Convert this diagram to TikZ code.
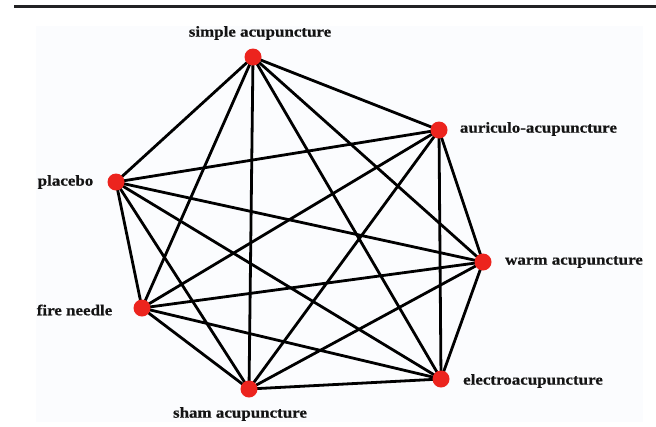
\documentclass[tikz,border=0pt]{standalone}
\usepackage{fontspec}
\newfontfamily\lblfont[FakeStretch=1.12,FakeBold=0.6]{Liberation Serif}
\definecolor{dotred}{RGB}{236,36,30}
\definecolor{panel}{RGB}{251,252,254}
\definecolor{rule}{RGB}{34,34,36}
\begin{document}
\begin{tikzpicture}[x=1bp,y=-1bp,
  dot/.style={circle,fill=dotred,inner sep=0pt,minimum size=17bp},
  lbl/.style={inner sep=0pt,font=\lblfont\bfseries\fontsize{15.2}{17}\selectfont,text=black!92},
  edge/.style={line width=2.8bp,black}]
\useasboundingbox (0,0) rectangle (656,426);
\fill[panel] (36,26) rectangle (643,422);
\draw[rule,line width=2.2bp] (14,6.5) -- (656,6.5);
\coordinate (S) at (253,57);
\coordinate (A) at (439,130);
\coordinate (P) at (116,182);
\coordinate (W) at (483,262);
\coordinate (F) at (142,308);
\coordinate (H) at (249,389);
\coordinate (E) at (441,379);
\foreach \u/\v in {S/A,S/P,S/W,S/F,S/H,S/E,A/P,A/W,A/F,A/H,A/E,P/W,P/F,P/H,P/E,W/F,W/H,W/E,F/H,F/E,H/E}
  \draw[edge] (\u) -- (\v);
\node[dot] (s) at (S) {};
\node[dot] (a) at (A) {};
\node[dot] (p) at (P) {};
\node[dot] (w) at (W) {};
\node[dot] (f) at (F) {};
\node[dot] (h) at (H) {};
\node[dot] (e) at (E) {};
\node[lbl] (ls) at (260,33) {simple acupuncture};
\node[lbl] (la) at (538.5,129) {auriculo-acupuncture};
\node[lbl] (lw) at (574,262) {warm acupuncture};
\node[lbl] (le) at (533,381) {electroacupuncture};
\node[lbl] (lp) at (65.5,182) {placebo};
\node[lbl] (lf) at (74.5,310) {fire needle};
\node[lbl] (lh) at (240,414) {sham acupuncture};
\end{tikzpicture}
\end{document}
